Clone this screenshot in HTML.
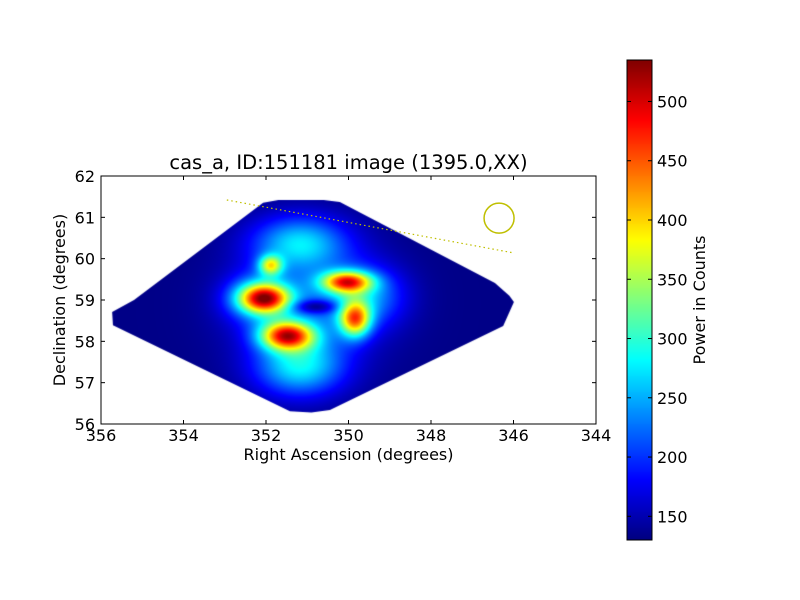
<!DOCTYPE html>
<html><head><meta charset="utf-8"><style>
body{margin:0;background:#fff;}
#wrap{position:relative;width:800px;height:600px;overflow:hidden;font-family:"DejaVu Sans","Liberation Sans",sans-serif;}
canvas,svg{position:absolute;left:0;top:0;}
</style></head><body>
<div id="wrap">
<canvas id="hm" width="800" height="600"></canvas>
<svg id="ov" width="800" height="600"></svg>
</div>
<script>
// ---- data ----
const raTicks = [356, 354, 352, 350, 348, 346, 344];
const decTicks = [56, 57, 58, 59, 60, 61, 62];
const cbTicks = [150, 200, 250, 300, 350, 400, 450, 500];
const footprintRA = [355.73, 355.2, 352.07, 351.7, 350.6, 350.21, 346.45, 346.1, 345.99, 346.25, 350.45, 350.9, 351.42, 355.71];
const footprintDec = [58.71, 59.0, 61.35, 61.42, 61.42, 61.37, 59.41, 59.1, 58.95, 58.37, 56.34, 56.28, 56.31, 58.39];
const baseLevel = 133;
const blobRA = [351.2, 351.2, 352.2, 349.6, 352.05, 351.5, 350.05, 349.85, 351.9, 350.8, 351.0];
const blobDec = [60.4, 57.4, 59.05, 59.1, 59.05, 58.15, 59.45, 58.55, 59.85, 58.85, 58.9];
const blobAmp = [120, 130, 95, 90, 270, 300, 265, 245, 180, -90, 75];
const blobSigRA = [0.8, 0.75, 0.55, 0.65, 0.42, 0.45, 0.42, 0.26, 0.2, 0.4, 1.2];
const blobSigDec = [0.45, 0.5, 0.4, 0.5, 0.24, 0.24, 0.18, 0.3, 0.17, 0.12, 1.0];
const vmin = 130, vmax = 535;
const lineRA = [352.95, 346.0];
const lineDec = [61.42, 60.14];
const circleRA = 346.35, circleDec = 60.98;

// ---- axes ----
const X0 = 101, X1 = 596, Y0 = 176, Y1 = 424;
const xs = ra => X0 + (356 - ra) / 12 * (X1 - X0);
const ys = d => Y1 - (d - 56) / 6 * (Y1 - Y0);
const CB = {x: 627, w: 25, y0: 60, y1: 540};
const cbY = v => CB.y1 - (v - vmin) / (vmax - vmin) * (CB.y1 - CB.y0);

function jet(t){
  t = Math.max(0, Math.min(1, t));
  const f = (a) => Math.max(0, Math.min(1, 1.5 - Math.abs(4*t - a)));
  return [f(3)*255, f(2)*255, f(1)*255];
}

// ---- heatmap ----
const cv = document.getElementById('hm'), ctx = cv.getContext('2d');
const img = ctx.createImageData(X1 - X0, Y1 - Y0);
for (let py = 0; py < Y1 - Y0; py++) {
  const dec = 62 - py / (Y1 - Y0) * 6;
  for (let px = 0; px < X1 - X0; px++) {
    const ra = 356 - px / (X1 - X0) * 12;
    let v = baseLevel;
    for (let i = 0; i < blobRA.length; i++) {
      const dx = (ra - blobRA[i]) / blobSigRA[i], dy = (dec - blobDec[i]) / blobSigDec[i];
      v += blobAmp[i] * Math.exp(-0.5 * (dx*dx + dy*dy));
    }
    const c = jet((v - vmin) / (vmax - vmin));
    const k = (py * (X1 - X0) + px) * 4;
    img.data[k] = c[0]; img.data[k+1] = c[1]; img.data[k+2] = c[2]; img.data[k+3] = 255;
  }
}
const tmp = document.createElement('canvas'); tmp.width = X1 - X0; tmp.height = Y1 - Y0;
tmp.getContext('2d').putImageData(img, 0, 0);
ctx.save();
ctx.beginPath();
footprintRA.forEach((r, i) => { const x = xs(r), y = ys(footprintDec[i]); i ? ctx.lineTo(x, y) : ctx.moveTo(x, y); });
ctx.closePath(); ctx.clip();
ctx.drawImage(tmp, X0, Y0);
ctx.restore();
// colorbar
for (let y = CB.y0; y < CB.y1; y++) {
  const v = vmin + (CB.y1 - y - 0.5) / (CB.y1 - CB.y0) * (vmax - vmin);
  const c = jet((v - vmin) / (vmax - vmin));
  ctx.fillStyle = `rgb(${c[0]|0},${c[1]|0},${c[2]|0})`;
  ctx.fillRect(CB.x, y, CB.w, 1);
}

// ---- overlay ----
const svg = document.getElementById('ov'), NS = 'http://www.w3.org/2000/svg';
function mk(tag, attrs, parent){ const e = document.createElementNS(NS, tag); for (const k in attrs) e.setAttribute(k, attrs[k]); (parent||svg).appendChild(e); return e; }
function txt(s, attrs){ const e = mk('text', attrs); e.textContent = s; return e; }

const ln = mk('line', {x1: xs(lineRA[0]), y1: ys(lineDec[0]), x2: xs(lineRA[1]), y2: ys(lineDec[1]), stroke: '#bfbf00', 'stroke-width': 1.2, 'stroke-dasharray': '1.5,3'});


const ci = mk('circle', {cx: xs(circleRA), cy: ys(circleDec), r: 15, fill: 'none', stroke: '#bfbf00', 'stroke-width': 1.5});



const frame = mk('rect', {x: X0, y: Y0, width: X1 - X0, height: Y1 - Y0, fill: 'none', stroke: '#000', 'stroke-width': 1});



raTicks.forEach(r => {
  const x = xs(r);
  mk('line', {x1: x, y1: Y1, x2: x, y2: Y1 - 4, stroke: '#000'});
  mk('line', {x1: x, y1: Y0, x2: x, y2: Y0 + 4, stroke: '#000'});
  const t = txt(String(r), {x: x, y: Y1 + 17, 'text-anchor': 'middle', 'font-size': 16});
  
  
});
decTicks.forEach(d => {
  const y = ys(d);
  mk('line', {x1: X0, y1: y, x2: X0 + 4, y2: y, stroke: '#000'});
  mk('line', {x1: X1, y1: y, x2: X1 - 4, y2: y, stroke: '#000'});
  const t = txt(String(d), {x: X0 - 6, y: y + 6, 'text-anchor': 'end', 'font-size': 16});
  
  
});
const title = txt('cas_a, ID:151181 image (1395.0,XX)', {x: (X0 + X1) / 2, y: 169, 'text-anchor': 'middle', 'font-size': 19.5});


const xl = txt('Right Ascension (degrees)', {x: (X0 + X1) / 2, y: 460, 'text-anchor': 'middle', 'font-size': 16});


const yl = txt('Declination (degrees)', {x: 0, y: 0, 'text-anchor': 'middle', 'font-size': 16, transform: `translate(65,${(Y0 + Y1) / 2}) rotate(-90)`});



const cbr = mk('rect', {x: CB.x, y: CB.y0, width: CB.w, height: CB.y1 - CB.y0, fill: 'none', stroke: '#000'});


cbTicks.forEach(v => {
  const y = cbY(v);
  mk('line', {x1: CB.x + CB.w - 4, y1: y, x2: CB.x + CB.w, y2: y, stroke: '#000'});
  mk('line', {x1: CB.x, y1: y, x2: CB.x + 4, y2: y, stroke: '#000'});
  const t = txt(String(v), {x: CB.x + CB.w + 5, y: y + 6, 'font-size': 16});
  
  
});
const cbl = txt('Power in Counts', {x: 0, y: 0, 'text-anchor': 'middle', 'font-size': 16, transform: 'translate(705,300) rotate(-90)'});


</script>
</body></html>
